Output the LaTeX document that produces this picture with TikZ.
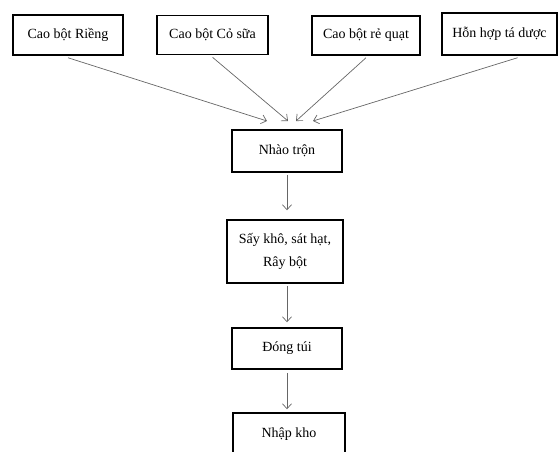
\documentclass[tikz,border=0pt]{standalone}
\usepackage{fontspec}
\setmainfont{Liberation Serif}
\usepackage{tikz}
\usetikzlibrary{arrows.meta}

\begin{document}
\begin{tikzpicture}[x=1pt,y=-1pt,
  procbox/.style={draw=black, line width=1.5pt, fill=white, align=center,
    font=\fontsize{14}{23}\selectfont, inner sep=2pt},
  flow/.style={draw=black!60, line width=0.7pt,
    -{Straight Barb[length=5pt,width=9pt,line width=0.7pt]}}]

  % page: 560 x 451, y runs downward
  \useasboundingbox (0,0) rectangle (560,451);
  \clip (0,0) rectangle (560,451);

  % --- Four raw materials (top row) ---
  \node[procbox, minimum width=110pt, minimum height=40pt] (rieng) at (68,35) {Cao bột Riềng};
  \node[procbox, minimum width=111pt, minimum height=39pt] (cosua) at (212.5,35) {Cao bột Cỏ sữa};
  \node[procbox, minimum width=108pt, minimum height=39pt] (requat) at (366,35.5) {Cao bột rẻ quạt};
  \node[procbox, minimum width=115pt, minimum height=42pt] (taduoc) at (499.5,34) {Hỗn hợp tá dược};

  % --- Process steps (centre column) ---
  \node[procbox, minimum width=110pt, minimum height=42pt] (nhao) at (287,151) {Nhào trộn};
  \node[procbox, minimum width=116pt, minimum height=63pt] (say) at (285,251.5) {Sấy khô, sát hạt,\\Rây bột};
  \node[procbox, minimum width=110pt, minimum height=41pt] (dong) at (287,348.5) {Đóng túi};
  \node[procbox, minimum width=112pt, minimum height=42pt] (nhap) at (289,434) {Nhập kho};

  % arrow tips above the mixing box
  \coordinate (in1) at (267,121);
  \coordinate (in2) at (288,121);
  \coordinate (in3) at (296,121);
  \coordinate (in4) at (313,121);

  % --- Arrows into mixing ---
  \draw[flow] ([yshift=-2pt]rieng.south) -- (in1);
  \draw[flow] ([yshift=-2pt]cosua.south) -- (in2);
  \draw[flow] ([yshift=-2pt]requat.south) -- (in3);
  \draw[flow] ([xshift=18pt,yshift=-2pt]taduoc.south) -- (in4);

  % --- Arrows down the column ---
  \draw[flow, shorten >=9pt, shorten <=2pt] (nhao.south) -- (nhao.south |- say.north);
  \draw[flow, shorten >=5pt, shorten <=2pt] (say.south -| dong.north) -- (dong.north);
  \draw[flow, shorten >=3pt, shorten <=3pt] (dong.south) -- (dong.south |- nhap.north);

\end{tikzpicture}
\end{document}
